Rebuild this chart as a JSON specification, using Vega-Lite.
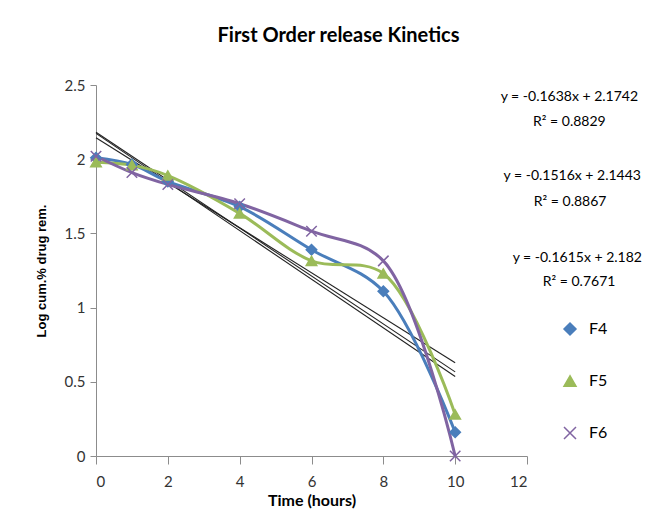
{
  "$schema": "https://vega.github.io/schema/vega-lite/v6.json",
  "width": 431,
  "height": 371,
  "autosize": {"type": "none"},
  "padding": {"left": 96, "top": 85, "right": 137, "bottom": 66},
  "background": "white",
  "title": {
    "text": "First Order release Kinetics",
    "font": "Lato",
    "fontSize": 20,
    "fontWeight": "bold",
    "color": "#000000",
    "anchor": "middle",
    "dx": 27,
    "offset": 32
  },
  "config": {
    "view": {"stroke": null},
    "axis": {
      "grid": false,
      "domainColor": "#8c8c8c",
      "tickColor": "#8c8c8c",
      "labelFont": "Lato",
      "labelFontSize": 15,
      "labelColor": "#333333",
      "titleColor": "#000000",
      "titleFontWeight": "bold"
    },
    "legend": {
      "labelFont": "Lato",
      "labelFontSize": 16,
      "labelColor": "#000000",
      "padding": 0
    }
  },
  "datasets": {
    "series": [
      {"time": 0, "logrem": 2.01, "formulation": "F4"},
      {"time": 1, "logrem": 1.965, "formulation": "F4"},
      {"time": 2, "logrem": 1.85, "formulation": "F4"},
      {"time": 4, "logrem": 1.68, "formulation": "F4"},
      {"time": 6, "logrem": 1.39, "formulation": "F4"},
      {"time": 8, "logrem": 1.11, "formulation": "F4"},
      {"time": 10, "logrem": 0.16, "formulation": "F4"},
      {"time": 0, "logrem": 1.98, "formulation": "F5"},
      {"time": 1, "logrem": 1.96, "formulation": "F5"},
      {"time": 2, "logrem": 1.89, "formulation": "F5"},
      {"time": 4, "logrem": 1.635, "formulation": "F5"},
      {"time": 6, "logrem": 1.315, "formulation": "F5"},
      {"time": 8, "logrem": 1.23, "formulation": "F5"},
      {"time": 10, "logrem": 0.28, "formulation": "F5"},
      {"time": 0, "logrem": 2.02, "formulation": "F6"},
      {"time": 1, "logrem": 1.91, "formulation": "F6"},
      {"time": 2, "logrem": 1.83, "formulation": "F6"},
      {"time": 4, "logrem": 1.70, "formulation": "F6"},
      {"time": 6, "logrem": 1.515, "formulation": "F6"},
      {"time": 8, "logrem": 1.315, "formulation": "F6"},
      {"time": 10, "logrem": 0.0, "formulation": "F6"}
    ],
    "trend": [
      {"fit": "F4", "time": 0, "logrem": 2.1742},
      {"fit": "F4", "time": 10, "logrem": 0.5362},
      {"fit": "F5", "time": 0, "logrem": 2.1443},
      {"fit": "F5", "time": 10, "logrem": 0.6283},
      {"fit": "F6", "time": 0, "logrem": 2.182},
      {"fit": "F6", "time": 10, "logrem": 0.567}
    ],
    "labels": [
      {"label": "y = -0.1638x + 2.1742", "time": 13.18, "logrem": 2.421},
      {"label": "R² = 0.8829", "time": 13.18, "logrem": 2.253},
      {"label": "y = -0.1516x + 2.1443", "time": 13.26, "logrem": 1.887},
      {"label": "R² = 0.8867", "time": 13.2, "logrem": 1.714},
      {"label": "y = -0.1615x + 2.182", "time": 13.4, "logrem": 1.334},
      {"label": "R² = 0.7671", "time": 13.45, "logrem": 1.175}
    ]
  },
  "layer": [
    {
      "data": {"name": "trend"},
      "mark": {"type": "line", "color": "#222222", "strokeWidth": 1.1},
      "encoding": {
        "x": {"field": "time", "type": "quantitative",
          "scale": {"domain": [0, 12], "nice": false},
          "axis": {"values": [0, 2, 4, 6, 8, 10, 12], "title": "Time (hours)", "titleFont": "Lato", "titleFontSize": 16, "tickSize": 8, "labelPadding": 10, "titlePadding": 3}},
        "y": {"field": "logrem", "type": "quantitative",
          "scale": {"domain": [0, 2.5], "nice": false},
          "axis": {"values": [0, 0.5, 1, 1.5, 2, 2.5], "format": "~g", "title": "Log cum.% drug rem.", "titleFont": "Liberation Sans", "titleFontSize": 13, "tickSize": 6, "labelPadding": 5, "titlePadding": 16}},
        "detail": {"field": "fit"}
      }
    },
    {
      "data": {"name": "series"},
      "mark": {"type": "line", "interpolate": "catmull-rom", "strokeWidth": 3},
      "encoding": {
        "x": {"field": "time", "type": "quantitative"},
        "y": {"field": "logrem", "type": "quantitative"},
        "color": {"field": "formulation", "type": "nominal",
          "scale": {"domain": ["F4", "F5", "F6"], "range": ["#4a7ebb", "#9bbb59", "#8064a2"]}}
      }
    },
    {
      "data": {"name": "series"},
      "mark": {"type": "point", "filled": true, "size": 110, "opacity": 1, "strokeWidth": 1.5},
      "encoding": {
        "x": {"field": "time", "type": "quantitative"},
        "y": {"field": "logrem", "type": "quantitative"},
        "color": {"field": "formulation", "type": "nominal",
          "scale": {"domain": ["F4", "F5", "F6"], "range": ["#4a7ebb", "#9bbb59", "#8064a2"]},
          "legend": {"title": null, "orient": "none", "legendX": 466, "legendY": 236,
            "rowPadding": 34, "symbolSize": 144, "labelOffset": 11,
            "encode": {"symbols": {
              "shape": {"value": {"expr": "datum.value === 'F4' ? 'M-2.4,0L2.4,0M0,-0.85L0.85,0L0,0.85L-0.85,0Z' : datum.value === 'F5' ? 'M-2.4,0L2.4,0M0,-0.85L0.85,0.7L-0.85,0.7Z' : 'M-2.4,0L2.4,0M-0.8,-0.8L0.8,0.8M0.8,-0.8L-0.8,0.8'"}},
              "strokeWidth": {"value": 3}
            }}}},
        "stroke": {"field": "formulation", "type": "nominal",
          "scale": {"domain": ["F4", "F5", "F6"], "range": ["#4a7ebb", "#9bbb59", "#8064a2"]},
          "legend": {"title": null, "orient": "none", "legendX": 466, "legendY": 236,
            "rowPadding": 34, "symbolSize": 144, "labelOffset": 11,
            "encode": {"symbols": {
              "shape": {"value": {"expr": "datum.value === 'F4' ? 'M-2.4,0L2.4,0M0,-0.85L0.85,0L0,0.85L-0.85,0Z' : datum.value === 'F5' ? 'M-2.4,0L2.4,0M0,-0.85L0.85,0.7L-0.85,0.7Z' : 'M-2.4,0L2.4,0M-0.8,-0.8L0.8,0.8M0.8,-0.8L-0.8,0.8'"}},
              "strokeWidth": {"value": 3}
            }}}},
        "shape": {"field": "formulation", "type": "nominal",
          "scale": {"domain": ["F4", "F5", "F6"], "range": ["diamond", "triangle-up", "M-1,-1L1,1M1,-1L-1,1"]},
          "legend": {"title": null, "orient": "none", "legendX": 466, "legendY": 236,
            "rowPadding": 34, "symbolSize": 144, "labelOffset": 11,
            "encode": {"symbols": {
              "shape": {"value": {"expr": "datum.value === 'F4' ? 'M-2.4,0L2.4,0M0,-0.85L0.85,0L0,0.85L-0.85,0Z' : datum.value === 'F5' ? 'M-2.4,0L2.4,0M0,-0.85L0.85,0.7L-0.85,0.7Z' : 'M-2.4,0L2.4,0M-0.8,-0.8L0.8,0.8M0.8,-0.8L-0.8,0.8'"}},
              "strokeWidth": {"value": 3}
            }}}}
      }
    },
    {
      "data": {"name": "labels"},
      "mark": {"type": "text", "font": "Lato", "fontSize": 14, "color": "#000000", "align": "center", "baseline": "middle"},
      "encoding": {
        "x": {"field": "time", "type": "quantitative"},
        "y": {"field": "logrem", "type": "quantitative"},
        "text": {"field": "label", "type": "nominal"}
      }
    }
  ]
}
